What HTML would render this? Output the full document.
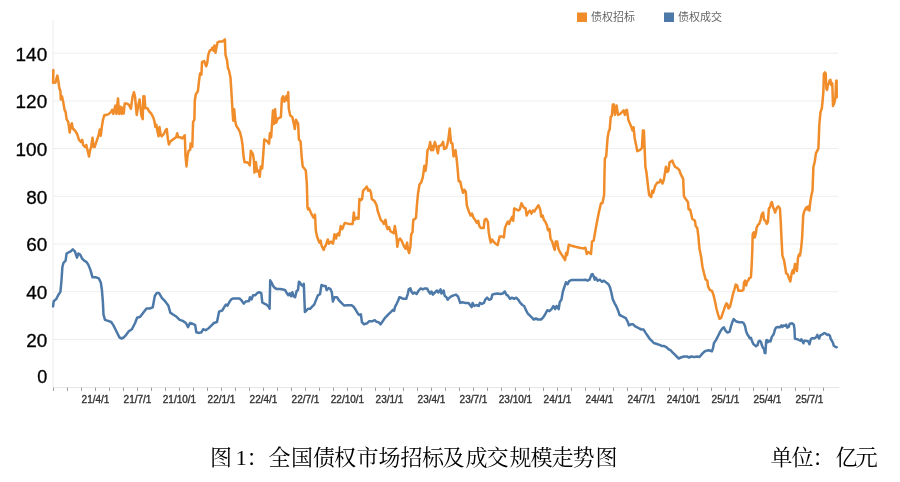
<!DOCTYPE html>
<html><head><meta charset="utf-8"><style>
html,body{margin:0;padding:0;background:#fff;}
body{width:900px;height:482px;position:relative;overflow:hidden;}
svg{position:absolute;left:0;top:0;}
.yl{font-family:"Liberation Sans",Arial,sans-serif;font-size:18px;fill:#000;stroke:#000;stroke-width:0.3px;}
.xl{font-family:"Liberation Sans",Arial,sans-serif;font-size:10px;fill:#333;stroke:#333;stroke-width:0.35px;}
.lg{font-family:"Liberation Sans","Noto Sans CJK SC",sans-serif;font-size:11px;fill:#666666;}
.cap{font-family:"Liberation Serif","Noto Serif CJK SC",serif;font-size:22px;fill:#000;}
</style></head><body>
<svg width="900" height="482" viewBox="0 0 900 482">
<line x1="53" y1="339.4" x2="838" y2="339.4" stroke="#eeeeee" stroke-width="1"/>
<line x1="53" y1="291.7" x2="838" y2="291.7" stroke="#eeeeee" stroke-width="1"/>
<line x1="53" y1="244.0" x2="838" y2="244.0" stroke="#eeeeee" stroke-width="1"/>
<line x1="53" y1="196.3" x2="838" y2="196.3" stroke="#eeeeee" stroke-width="1"/>
<line x1="53" y1="148.6" x2="838" y2="148.6" stroke="#eeeeee" stroke-width="1"/>
<line x1="53" y1="100.9" x2="838" y2="100.9" stroke="#eeeeee" stroke-width="1"/>
<line x1="53" y1="53.2" x2="838" y2="53.2" stroke="#eeeeee" stroke-width="1"/>
<line x1="53" y1="20" x2="53" y2="387" stroke="#ececec" stroke-width="1"/>
<line x1="53" y1="387.5" x2="839" y2="387.5" stroke="#e6e6e6" stroke-width="1"/>
<line x1="53.5" y1="387.5" x2="53.5" y2="391" stroke="#a0a0a0" stroke-width="1"/>
<line x1="67.5" y1="387.5" x2="67.5" y2="391" stroke="#a0a0a0" stroke-width="1"/>
<line x1="81.5" y1="387.5" x2="81.5" y2="391" stroke="#a0a0a0" stroke-width="1"/>
<line x1="95.5" y1="387.5" x2="95.5" y2="391" stroke="#a0a0a0" stroke-width="1"/>
<line x1="109.5" y1="387.5" x2="109.5" y2="391" stroke="#a0a0a0" stroke-width="1"/>
<line x1="123.5" y1="387.5" x2="123.5" y2="391" stroke="#a0a0a0" stroke-width="1"/>
<line x1="137.5" y1="387.5" x2="137.5" y2="391" stroke="#a0a0a0" stroke-width="1"/>
<line x1="151.5" y1="387.5" x2="151.5" y2="391" stroke="#a0a0a0" stroke-width="1"/>
<line x1="165.5" y1="387.5" x2="165.5" y2="391" stroke="#a0a0a0" stroke-width="1"/>
<line x1="179.5" y1="387.5" x2="179.5" y2="391" stroke="#a0a0a0" stroke-width="1"/>
<line x1="193.5" y1="387.5" x2="193.5" y2="391" stroke="#a0a0a0" stroke-width="1"/>
<line x1="207.5" y1="387.5" x2="207.5" y2="391" stroke="#a0a0a0" stroke-width="1"/>
<line x1="221.5" y1="387.5" x2="221.5" y2="391" stroke="#a0a0a0" stroke-width="1"/>
<line x1="235.5" y1="387.5" x2="235.5" y2="391" stroke="#a0a0a0" stroke-width="1"/>
<line x1="249.5" y1="387.5" x2="249.5" y2="391" stroke="#a0a0a0" stroke-width="1"/>
<line x1="263.5" y1="387.5" x2="263.5" y2="391" stroke="#a0a0a0" stroke-width="1"/>
<line x1="277.5" y1="387.5" x2="277.5" y2="391" stroke="#a0a0a0" stroke-width="1"/>
<line x1="291.5" y1="387.5" x2="291.5" y2="391" stroke="#a0a0a0" stroke-width="1"/>
<line x1="305.5" y1="387.5" x2="305.5" y2="391" stroke="#a0a0a0" stroke-width="1"/>
<line x1="319.5" y1="387.5" x2="319.5" y2="391" stroke="#a0a0a0" stroke-width="1"/>
<line x1="333.5" y1="387.5" x2="333.5" y2="391" stroke="#a0a0a0" stroke-width="1"/>
<line x1="347.5" y1="387.5" x2="347.5" y2="391" stroke="#a0a0a0" stroke-width="1"/>
<line x1="361.5" y1="387.5" x2="361.5" y2="391" stroke="#a0a0a0" stroke-width="1"/>
<line x1="375.5" y1="387.5" x2="375.5" y2="391" stroke="#a0a0a0" stroke-width="1"/>
<line x1="389.5" y1="387.5" x2="389.5" y2="391" stroke="#a0a0a0" stroke-width="1"/>
<line x1="403.5" y1="387.5" x2="403.5" y2="391" stroke="#a0a0a0" stroke-width="1"/>
<line x1="417.5" y1="387.5" x2="417.5" y2="391" stroke="#a0a0a0" stroke-width="1"/>
<line x1="431.5" y1="387.5" x2="431.5" y2="391" stroke="#a0a0a0" stroke-width="1"/>
<line x1="445.5" y1="387.5" x2="445.5" y2="391" stroke="#a0a0a0" stroke-width="1"/>
<line x1="459.5" y1="387.5" x2="459.5" y2="391" stroke="#a0a0a0" stroke-width="1"/>
<line x1="473.5" y1="387.5" x2="473.5" y2="391" stroke="#a0a0a0" stroke-width="1"/>
<line x1="487.5" y1="387.5" x2="487.5" y2="391" stroke="#a0a0a0" stroke-width="1"/>
<line x1="501.5" y1="387.5" x2="501.5" y2="391" stroke="#a0a0a0" stroke-width="1"/>
<line x1="515.5" y1="387.5" x2="515.5" y2="391" stroke="#a0a0a0" stroke-width="1"/>
<line x1="529.5" y1="387.5" x2="529.5" y2="391" stroke="#a0a0a0" stroke-width="1"/>
<line x1="543.5" y1="387.5" x2="543.5" y2="391" stroke="#a0a0a0" stroke-width="1"/>
<line x1="557.5" y1="387.5" x2="557.5" y2="391" stroke="#a0a0a0" stroke-width="1"/>
<line x1="571.5" y1="387.5" x2="571.5" y2="391" stroke="#a0a0a0" stroke-width="1"/>
<line x1="585.5" y1="387.5" x2="585.5" y2="391" stroke="#a0a0a0" stroke-width="1"/>
<line x1="599.5" y1="387.5" x2="599.5" y2="391" stroke="#a0a0a0" stroke-width="1"/>
<line x1="613.5" y1="387.5" x2="613.5" y2="391" stroke="#a0a0a0" stroke-width="1"/>
<line x1="627.5" y1="387.5" x2="627.5" y2="391" stroke="#a0a0a0" stroke-width="1"/>
<line x1="641.5" y1="387.5" x2="641.5" y2="391" stroke="#a0a0a0" stroke-width="1"/>
<line x1="655.5" y1="387.5" x2="655.5" y2="391" stroke="#a0a0a0" stroke-width="1"/>
<line x1="669.5" y1="387.5" x2="669.5" y2="391" stroke="#a0a0a0" stroke-width="1"/>
<line x1="683.5" y1="387.5" x2="683.5" y2="391" stroke="#a0a0a0" stroke-width="1"/>
<line x1="697.5" y1="387.5" x2="697.5" y2="391" stroke="#a0a0a0" stroke-width="1"/>
<line x1="711.5" y1="387.5" x2="711.5" y2="391" stroke="#a0a0a0" stroke-width="1"/>
<line x1="725.5" y1="387.5" x2="725.5" y2="391" stroke="#a0a0a0" stroke-width="1"/>
<line x1="739.5" y1="387.5" x2="739.5" y2="391" stroke="#a0a0a0" stroke-width="1"/>
<line x1="753.5" y1="387.5" x2="753.5" y2="391" stroke="#a0a0a0" stroke-width="1"/>
<line x1="767.5" y1="387.5" x2="767.5" y2="391" stroke="#a0a0a0" stroke-width="1"/>
<line x1="781.5" y1="387.5" x2="781.5" y2="391" stroke="#a0a0a0" stroke-width="1"/>
<line x1="795.5" y1="387.5" x2="795.5" y2="391" stroke="#a0a0a0" stroke-width="1"/>
<line x1="809.5" y1="387.5" x2="809.5" y2="391" stroke="#a0a0a0" stroke-width="1"/>
<line x1="823.5" y1="387.5" x2="823.5" y2="391" stroke="#a0a0a0" stroke-width="1"/>
<text x="47.2" y="382.9" text-anchor="end" class="yl">0</text>
<text x="47.2" y="346.7" text-anchor="end" class="yl" textLength="21" lengthAdjust="spacingAndGlyphs">20</text>
<text x="47.2" y="299.0" text-anchor="end" class="yl" textLength="21" lengthAdjust="spacingAndGlyphs">40</text>
<text x="47.2" y="251.3" text-anchor="end" class="yl" textLength="21" lengthAdjust="spacingAndGlyphs">60</text>
<text x="47.2" y="203.6" text-anchor="end" class="yl" textLength="21" lengthAdjust="spacingAndGlyphs">80</text>
<text x="47.2" y="155.9" text-anchor="end" class="yl" textLength="31.6" lengthAdjust="spacingAndGlyphs">100</text>
<text x="47.2" y="108.2" text-anchor="end" class="yl" textLength="31.6" lengthAdjust="spacingAndGlyphs">120</text>
<text x="47.2" y="60.5" text-anchor="end" class="yl" textLength="31.6" lengthAdjust="spacingAndGlyphs">140</text>
<text x="95.5" y="402.6" text-anchor="middle" class="xl">21/4/1</text>
<text x="137.5" y="402.6" text-anchor="middle" class="xl">21/7/1</text>
<text x="179.5" y="402.6" text-anchor="middle" class="xl">21/10/1</text>
<text x="221.5" y="402.6" text-anchor="middle" class="xl">22/1/1</text>
<text x="263.5" y="402.6" text-anchor="middle" class="xl">22/4/1</text>
<text x="305.5" y="402.6" text-anchor="middle" class="xl">22/7/1</text>
<text x="347.5" y="402.6" text-anchor="middle" class="xl">22/10/1</text>
<text x="389.5" y="402.6" text-anchor="middle" class="xl">23/1/1</text>
<text x="431.5" y="402.6" text-anchor="middle" class="xl">23/4/1</text>
<text x="473.5" y="402.6" text-anchor="middle" class="xl">23/7/1</text>
<text x="515.5" y="402.6" text-anchor="middle" class="xl">23/10/1</text>
<text x="557.5" y="402.6" text-anchor="middle" class="xl">24/1/1</text>
<text x="599.5" y="402.6" text-anchor="middle" class="xl">24/4/1</text>
<text x="641.5" y="402.6" text-anchor="middle" class="xl">24/7/1</text>
<text x="683.5" y="402.6" text-anchor="middle" class="xl">24/10/1</text>
<text x="725.5" y="402.6" text-anchor="middle" class="xl">25/1/1</text>
<text x="767.5" y="402.6" text-anchor="middle" class="xl">25/4/1</text>
<text x="809.5" y="402.6" text-anchor="middle" class="xl">25/7/1</text>

<polyline points="53.4,70.0 53.1,82.8 55.5,82.5 57.3,75.6 58.3,80.7 59.3,88.0 60.4,91.0 60.8,99.4 62.0,96.3 63.5,103.6 64.5,109.8 65.6,111.9 66.6,119.1 68.3,122.2 69.7,132.6 70.7,126.4 71.8,123.3 72.8,128.5 74.9,130.5 77.0,133.7 79.0,139.9 81.1,142.0 82.2,139.9 83.2,145.0 85.3,147.1 86.3,145.0 87.3,149.2 89.0,156.5 89.8,151.3 91.1,147.1 92.5,137.8 93.6,147.1 94.6,147.1 96.7,140.9 98.8,134.7 99.8,129.5 100.8,135.7 101.9,126.4 102.9,120.2 104.4,115.0 106.0,115.0 108.1,114.4 111.2,111.9 112.2,109.8 113.3,113.9 115.4,105.6 116.4,113.9 118.0,98.4 119.1,113.9 120.5,106.7 121.6,113.9 122.6,107.7 123.7,113.5 124.7,103.6 126.8,103.6 128.8,104.6 130.9,108.8 132.6,96.3 134.0,92.2 135.1,97.3 136.7,115.0 138.2,105.6 139.6,99.4 141.3,115.0 142.7,119.1 143.4,96.3 144.4,96.3 145.4,108.3 147.5,108.3 149.1,111.4 151.2,113.5 153.3,117.6 154.3,120.7 155.4,127.0 156.4,124.9 157.4,131.1 158.5,136.3 159.5,127.0 160.6,134.2 161.6,136.3 163.7,134.2 165.7,130.1 166.8,129.0 167.8,138.4 168.9,144.6 170.3,141.5 173.0,139.4 176.1,137.3 177.2,133.2 178.2,137.3 180.3,137.3 182.3,138.4 184.8,135.3 185.5,156.0 186.5,166.4 187.5,156.0 188.6,150.8 190.2,149.8 190.6,143.6 192.3,146.7 193.1,121.8 194.4,119.7 194.8,100.5 195.8,94.3 197.9,91.2 198.9,81.9 200.0,73.6 201.4,74.6 202.0,62.2 204.1,61.1 206.2,66.3 207.2,63.2 208.3,54.9 209.7,50.7 211.4,49.7 212.4,47.6 213.5,50.7 214.5,45.6 215.5,52.8 216.6,46.6 217.6,42.4 219.7,41.4 222.8,41.4 224.9,39.3 225.5,54.9 227.0,60.1 228.0,68.4 229.0,70.5 230.5,77.7 231.7,96.4 232.6,112.4 233.2,120.7 234.2,109.3 235.2,120.7 236.3,125.9 238.4,129.0 240.0,132.2 241.5,138.4 242.5,144.6 243.5,156.0 244.6,162.2 246.7,162.2 248.7,163.3 249.8,165.4 250.8,150.8 252.9,153.9 253.9,160.2 254.5,172.6 256.0,162.2 257.0,171.6 258.7,170.5 259.7,176.8 260.8,166.4 262.2,168.5 263.3,153.9 264.3,139.4 267.4,141.5 269.1,143.6 269.9,133.2 271.1,137.3 272.0,124.9 273.0,110.4 274.0,123.9 275.1,109.3 276.1,122.8 277.8,118.7 280.9,117.1 281.9,98.5 283.0,96.4 284.4,101.6 286.1,96.4 287.1,100.5 288.2,92.2 288.8,108.8 290.2,115.5 292.3,117.0 294.0,124.5 294.8,129.0 296.0,119.7 298.1,123.9 298.9,139.4 300.6,141.5 301.6,156.0 302.7,166.4 304.3,168.5 305.8,170.5 306.8,183.0 307.5,207.3 308.1,209.4 309.1,208.4 310.8,212.5 312.3,215.6 313.7,217.7 315.0,214.6 315.8,230.2 317.0,236.4 318.5,240.5 319.5,242.6 320.6,240.5 321.6,245.7 323.7,249.9 324.7,246.8 325.7,245.7 327.8,239.5 328.9,243.7 330.9,241.6 333.0,243.7 334.5,234.3 336.1,238.5 337.2,234.3 338.2,233.3 339.2,235.4 340.7,226.0 342.3,229.1 343.4,226.0 344.8,222.9 348.6,223.9 352.7,223.9 353.8,212.5 354.8,219.8 356.5,217.7 358.5,218.8 359.4,199.0 361.0,200.1 362.1,199.0 363.1,190.7 365.2,188.7 366.8,186.6 368.3,190.7 369.7,189.7 371.0,192.8 371.8,199.0 374.5,201.1 376.6,205.3 377.6,210.5 379.3,215.6 380.7,219.8 382.8,221.9 383.8,223.9 385.5,219.8 386.5,226.0 387.6,229.1 389.0,227.1 390.5,231.2 392.1,232.2 393.8,233.3 394.8,226.0 395.9,232.2 396.7,238.5 397.3,246.8 398.4,240.5 400.0,238.5 401.5,240.5 402.9,243.7 404.2,246.8 405.6,248.8 407.1,242.6 408.1,249.9 409.1,253.0 410.4,246.8 411.2,234.3 412.5,232.2 413.3,219.8 415.0,218.8 416.0,217.7 417.0,204.2 418.1,192.8 419.5,184.5 421.2,182.4 422.8,177.3 424.4,165.7 425.5,170.9 426.5,163.7 427.5,150.2 429.0,148.1 430.2,141.9 431.1,150.2 432.3,146.0 433.1,150.2 434.8,141.9 436.5,147.1 437.9,153.3 438.9,146.0 440.6,145.6 442.1,143.9 443.1,141.9 444.1,149.1 446.2,148.1 447.2,145.0 448.3,139.8 449.7,128.4 451.0,142.9 452.4,143.5 453.5,156.4 454.5,154.3 455.5,150.2 456.6,158.5 457.6,168.8 458.7,181.3 460.1,181.3 461.6,187.6 463.1,192.8 464.3,189.7 465.8,191.8 466.8,205.3 468.9,211.5 470.6,215.6 472.0,213.6 473.5,217.7 475.1,219.8 476.8,222.9 478.2,220.8 479.3,226.0 481.0,228.1 483.7,228.1 484.6,219.8 486.2,218.8 487.9,221.9 488.7,232.2 490.0,239.5 490.8,242.6 492.0,239.5 493.5,241.6 495.6,243.7 497.6,245.1 498.7,240.5 499.7,236.4 501.8,236.4 503.9,237.4 504.9,228.1 506.6,223.9 508.0,221.5 509.0,223.9 510.7,219.8 512.2,216.7 513.2,220.8 514.2,208.4 516.3,209.4 518.4,210.5 519.8,209.4 521.5,203.2 523.6,207.3 525.6,208.4 526.7,215.6 528.1,212.5 529.8,210.5 531.5,213.6 532.9,210.5 534.4,211.5 535.6,209.4 537.1,207.3 538.5,205.3 540.2,209.4 541.2,216.7 542.7,215.6 543.9,219.8 545.4,221.9 546.8,225.0 548.0,230.2 549.5,229.1 550.5,238.5 552.2,241.6 553.7,246.8 554.7,249.9 555.7,241.6 557.2,241.6 558.4,248.8 559.9,252.0 562.0,255.1 564.0,258.2 565.1,260.2 566.1,253.0 567.1,255.1 568.8,244.7 571.3,245.7 575.4,246.8 579.6,247.8 583.7,248.4 585.4,247.8 586.8,254.0 588.3,252.0 589.5,253.0 591.0,254.0 592.0,241.6 593.7,240.5 595.1,232.2 596.2,226.0 597.8,217.7 599.3,210.5 601.0,203.2 602.4,203.2 604.1,194.9 604.5,173.0 604.9,158.5 606.2,156.4 607.6,137.7 608.7,131.5 609.7,129.4 610.7,117.0 611.8,115.9 612.8,104.5 613.9,104.5 614.9,114.9 616.6,105.6 618.0,114.9 620.1,113.9 622.2,111.8 623.6,110.3 624.9,114.9 625.7,110.7 626.9,109.7 627.8,115.9 628.4,120.1 629.8,123.2 631.5,127.3 632.5,130.5 633.6,127.3 634.6,137.7 636.1,145.0 637.3,151.2 639.8,150.2 641.9,148.1 642.9,130.5 643.9,130.5 644.6,148.1 645.4,166.8 646.4,172.0 647.7,183.4 648.5,190.0 649.1,194.9 651.2,197.0 652.2,190.7 653.2,192.8 655.3,185.6 657.4,182.4 659.5,182.4 660.5,179.6 661.7,181.4 662.5,183.5 663.7,180.4 664.3,177.1 665.1,172.0 665.9,166.8 667.2,172.0 668.4,170.9 669.5,162.6 670.9,161.6 672.4,160.5 673.4,163.7 675.1,166.8 677.1,167.8 679.2,169.9 680.7,174.1 682.4,177.3 683.2,179.3 683.9,195.9 684.9,198.0 686.6,200.1 688.0,202.2 688.6,209.4 690.1,209.4 691.1,213.6 692.2,218.8 693.6,219.8 694.9,220.8 695.7,226.0 697.3,228.1 698.4,236.4 699.4,248.3 701.1,256.6 702.5,267.0 704.0,273.2 705.6,279.4 707.3,280.5 708.1,286.7 709.8,289.8 711.9,290.8 713.5,295.0 715.0,301.2 716.4,308.5 718.1,314.7 719.5,318.8 721.2,317.8 722.2,314.7 723.3,311.6 724.7,307.4 726.4,303.3 727.4,304.3 728.5,308.5 730.1,306.4 731.6,300.2 733.0,293.9 734.3,289.8 735.7,284.6 737.2,285.6 738.4,290.8 739.9,290.8 742.0,290.8 743.4,289.8 744.0,282.5 745.1,280.5 746.1,285.6 747.1,281.5 748.2,280.5 749.2,278.4 750.9,277.3 751.7,264.9 752.3,250.4 752.7,234.3 753.8,232.2 754.8,237.4 755.9,233.3 756.5,228.1 757.9,225.0 759.2,223.9 760.6,219.8 761.7,214.6 763.1,212.5 764.1,219.8 765.4,220.8 766.8,223.9 767.9,221.9 768.9,208.4 770.0,207.3 771.0,203.2 772.0,202.2 773.1,207.3 774.1,209.4 775.1,212.5 776.2,209.4 777.2,207.3 778.3,206.3 779.9,208.4 780.7,220.8 781.4,236.4 782.4,255.6 784.1,260.7 785.5,269.0 786.1,273.2 787.6,274.2 788.6,277.3 790.3,281.5 791.7,273.2 792.8,270.1 793.8,273.2 794.9,263.9 795.9,264.9 796.9,271.1 798.0,257.6 799.0,254.5 800.0,255.6 801.1,248.3 802.1,238.0 803.2,215.6 804.2,211.5 805.2,209.4 806.3,207.3 807.3,209.4 808.3,206.3 809.4,210.5 810.4,201.1 811.5,194.9 812.5,190.7 813.4,167.0 814.7,162.0 815.9,153.3 817.2,150.8 818.4,148.4 819.3,125.0 820.5,112.2 821.8,108.5 822.6,101.0 823.4,91.1 823.9,73.7 824.9,72.4 825.7,73.7 826.4,88.6 827.1,89.9 828.0,84.3 828.9,83.6 829.6,80.5 830.5,79.9 831.1,84.9 831.7,83.0 832.3,83.6 833.0,106.0 833.6,104.8 834.8,101.0 835.4,97.3 836.1,81.1 836.6,80.5 836.8,97.3" fill="none" stroke="#F08C29" stroke-width="2.5" stroke-linejoin="round" stroke-linecap="round"/>
<polyline points="53.1,306.4 53.7,301.2 56.2,299.1 58.3,295.0 60.4,291.9 61.4,281.5 62.4,267.0 63.5,262.8 65.6,260.7 66.6,253.5 68.7,252.4 70.7,251.4 72.8,249.3 74.9,251.4 77.0,257.6 78.4,253.5 80.1,254.5 82.2,258.7 84.2,260.7 86.3,261.8 88.4,264.9 90.5,270.1 92.5,277.3 95.6,277.3 98.8,278.4 100.8,282.5 101.9,289.8 102.9,302.2 103.5,314.7 105.0,319.9 108.1,320.9 111.2,322.0 113.3,325.1 115.4,329.2 117.4,333.4 119.5,337.5 121.6,338.5 123.7,337.5 125.7,335.4 128.8,331.3 131.9,329.2 135.1,323.0 137.1,317.8 140.2,316.8 143.4,312.6 146.5,308.5 149.6,308.5 152.7,307.4 154.8,296.0 156.8,292.9 158.9,292.9 162.0,298.1 165.1,301.2 168.3,305.4 170.3,312.6 173.4,314.7 176.6,316.8 179.7,319.9 182.8,320.9 185.9,323.0 188.0,327.1 190.0,323.0 193.2,324.0 195.2,325.1 196.3,332.3 199.4,332.9 201.5,332.3 203.1,329.2 205.6,330.2 208.7,328.2 211.8,325.1 213.9,323.0 217.0,322.0 219.1,311.6 222.2,310.5 225.3,305.4 226.0,304.6 227.5,305.6 229.1,302.5 231.2,299.4 233.3,298.4 236.4,298.4 239.5,298.4 241.6,300.5 243.7,303.6 245.7,301.5 248.9,301.1 249.9,297.3 251.6,299.4 253.0,295.3 255.1,295.3 257.2,293.2 259.2,292.2 261.3,293.2 262.3,302.5 264.4,303.6 266.5,304.6 268.6,306.7 269.6,308.8 270.2,280.3 271.7,282.8 273.1,285.9 274.8,288.0 276.9,289.0 280.0,289.0 283.1,289.5 285.2,290.1 286.8,293.2 288.3,295.3 289.7,293.2 291.0,296.3 292.4,292.2 293.5,296.3 295.1,297.3 296.6,291.1 298.0,290.1 298.9,281.8 300.1,282.8 301.3,284.9 302.8,285.9 303.8,283.9 304.9,311.9 306.3,310.8 308.0,308.8 310.1,308.8 312.1,306.7 314.2,304.6 316.3,299.4 317.9,295.3 320.0,294.2 321.5,284.9 323.5,285.9 325.6,285.9 326.7,290.1 328.7,288.0 330.4,289.0 331.8,292.2 332.9,301.5 334.5,297.3 337.0,297.3 339.1,300.5 342.2,303.6 344.3,305.6 347.4,305.2 351.6,305.2 353.6,306.7 355.7,309.8 357.8,313.5 359.4,315.0 360.9,314.4 361.9,322.2 364.0,324.3 367.1,323.3 369.2,321.2 371.3,321.2 372.7,321.2 374.8,320.2 376.5,321.8 378.5,322.2 380.6,324.3 382.7,321.2 384.8,318.1 386.8,316.0 388.9,313.9 391.0,311.9 393.0,309.8 394.1,310.8 395.1,306.7 396.8,303.6 398.2,300.5 399.3,297.3 401.3,297.8 403.1,298.8 406.2,298.8 407.9,293.6 408.7,289.4 410.4,288.4 411.4,291.5 412.9,293.6 414.5,292.5 416.6,294.0 418.7,290.5 420.7,288.4 422.8,289.4 424.9,288.4 427.0,288.4 428.6,291.5 430.1,293.6 431.5,291.5 432.8,294.6 434.9,292.5 436.9,290.5 438.4,292.5 440.5,289.4 441.5,293.6 443.6,290.5 444.6,295.6 446.7,297.7 447.7,299.8 449.4,297.7 450.8,296.7 452.9,295.6 456.0,294.6 458.1,296.7 460.2,302.9 462.2,302.3 465.4,302.9 468.5,302.9 471.6,307.1 472.6,302.9 474.3,306.0 476.3,305.0 478.8,306.0 479.9,302.9 481.9,303.9 484.0,302.9 485.1,299.8 487.1,297.7 489.2,299.8 491.3,298.8 492.3,294.6 494.4,294.0 497.5,293.6 500.6,294.0 502.7,293.6 504.8,291.5 506.2,294.6 507.9,295.6 510.0,298.8 512.0,297.7 514.1,298.8 516.2,297.7 518.3,299.8 520.3,302.9 522.4,305.0 524.1,306.0 525.5,309.1 527.6,313.3 529.7,315.4 531.7,317.4 533.8,319.5 535.9,318.5 538.0,319.5 541.1,319.5 543.2,317.4 545.2,314.3 547.3,310.2 549.4,311.2 551.5,309.1 553.5,306.0 555.2,309.1 556.6,306.0 558.7,309.1 559.8,301.9 561.4,299.8 562.9,291.5 564.9,285.3 566.0,282.2 567.6,284.2 569.1,281.1 571.2,280.1 574.3,280.1 579.1,280.1 583.3,280.1 585.4,279.7 587.4,280.7 589.5,279.7 591.6,274.5 592.6,274.1 593.7,276.6 594.7,279.7 595.7,277.6 597.8,280.7 599.9,279.7 602.0,281.8 604.0,280.7 606.1,282.4 608.2,283.9 609.9,287.0 611.3,292.2 612.8,299.4 614.8,303.6 616.5,306.7 618.2,310.8 619.6,315.0 621.7,316.0 623.8,317.1 625.8,318.1 627.9,322.2 628.9,325.4 631.0,324.3 633.1,324.3 635.2,326.4 637.2,327.4 639.3,328.5 641.4,329.5 643.5,329.5 645.5,332.6 647.6,335.7 649.7,338.8 651.8,340.9 653.8,343.0 657.0,344.0 660.1,345.1 662.1,346.1 664.2,346.1 666.3,347.1 668.4,349.2 670.4,350.2 672.5,352.3 674.6,354.4 676.7,356.5 678.7,358.5 680.8,357.5 683.9,356.5 687.0,356.5 689.1,357.5 691.2,356.5 694.3,357.1 697.4,356.5 699.5,357.1 701.6,354.4 703.6,352.3 705.7,350.9 708.8,350.2 711.9,351.3 713.0,348.2 714.0,343.0 716.1,339.9 718.2,335.7 720.2,331.6 722.3,328.5 724.0,327.4 725.4,330.5 727.5,332.6 729.6,331.6 731.0,326.4 732.7,321.2 733.7,319.1 735.8,321.2 738.9,322.2 742.0,322.2 743.6,323.0 745.1,326.2 746.1,331.3 747.3,334.2 748.7,336.3 749.9,338.5 750.9,337.8 751.9,340.7 753.1,343.6 754.5,345.1 756.0,346.2 757.4,345.3 758.6,341.4 759.6,340.7 761.1,342.2 761.8,345.1 763.0,348.0 764.0,348.7 764.7,353.1 765.4,353.1 766.2,340.7 766.9,340.0 767.9,342.2 769.1,340.7 770.5,341.4 771.7,337.1 772.7,335.6 773.7,334.2 774.9,329.8 776.0,327.6 777.8,326.9 780.0,327.3 781.4,325.4 782.4,326.9 783.6,325.4 785.1,325.9 786.2,324.7 787.2,327.6 788.7,326.9 789.7,324.0 790.9,323.5 792.3,323.3 793.8,324.7 794.5,329.1 794.9,338.5 796.0,339.0 797.4,339.2 798.9,340.0 800.3,340.7 801.3,339.2 802.5,341.4 803.4,343.3 804.2,340.7 805.4,340.7 806.9,341.0 808.3,341.4 809.5,344.3 810.5,340.0 811.5,338.5 812.7,338.1 814.1,338.5 815.3,337.8 816.3,337.1 817.3,334.9 818.2,337.1 819.2,338.5 820.2,335.6 821.4,334.9 822.8,334.2 824.3,333.1 825.8,333.7 827.2,334.9 828.7,334.6 829.8,335.6 830.8,339.2 831.9,340.7 833.0,342.9 833.8,345.8 835.2,346.8 836.7,347.2" fill="none" stroke="#4D79A9" stroke-width="2.5" stroke-linejoin="round" stroke-linecap="round"/>
<rect x="577" y="12.5" width="10" height="9.5" fill="#F08C29"/>
<text x="591" y="20.8" class="lg">债权招标</text>
<rect x="664" y="12.5" width="10" height="9.5" fill="#4D79A9"/>
<text x="678" y="20.8" class="lg">债权成交</text>
<text x="209.9 230 235.8 246.5 268.5 291.1 313.1 334.1 356.5 378.5 400.5 421.9 442.5 465.5 486.5 509.5 530.5 551.5 572.5 595.5" y="464.5" class="cap">图 1：全国债权市场招标及成交规模走势图</text>
<text x="770.6 791.5 812.4 835.6 855.8" y="464.5" class="cap">单位：亿元</text>
</svg>
</body></html>
